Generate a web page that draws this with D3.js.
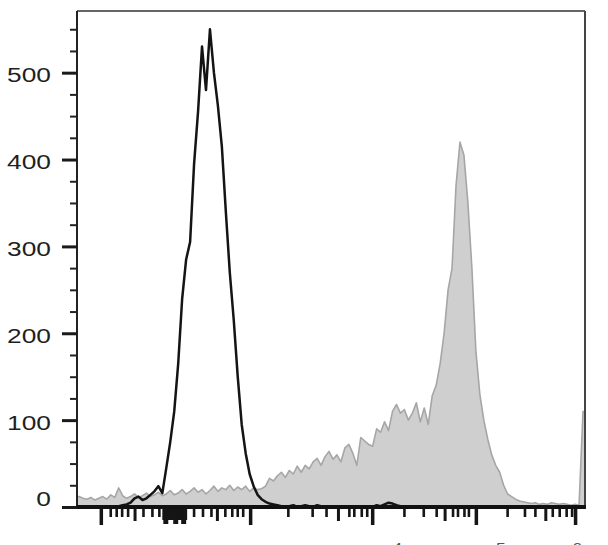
<!DOCTYPE html>
<html><head><meta charset="utf-8">
<script src="https://cdn.jsdelivr.net/npm/d3@7"></script>
<style>
html,body{margin:0;padding:0;background:#fff;}
svg{display:block;}
text{font-family:"Liberation Sans", Arial, Helvetica, sans-serif;}
</style></head><body>
<svg id="chart" width="608" height="545"></svg>
<script>
// ---------------- data ----------------
const CHANNELS = 1024;          // display channels on the x axis
const BIN = 8;                  // channels per histogram bin
const Y_MAX = 571;

// stained sample (grey filled histogram), counts per bin
const grayCounts = [
  12,10,9,11,8,10,12,9,14,11,
  22,13,10,12,15,11,13,16,12,14,
  17,13,15,19,14,16,20,15,18,22,
  17,20,15,19,24,18,22,20,25,19,
  23,20,24,18,22,20,21,
  24,33,30,
  36,40,34,42,38,47,40,48,44,52,
  56,48,58,64,55,60,52,68,72,62,
  48,80,76,72,70,90,86,98,88,110,
  118,108,112,100,108,120,98,114,95,128,
  140,165,200,250,275,370,420,405,350,275,
  180,130,100,78,60,48,40,25,15,12,
  9,7,6,5,4,5,3,4,3,5,
  4,3,4,3,2,3,2,110
];
// unstained control (black line), counts per bin
const blackCounts = [
  0,0,0,0,0,0,0,0,0,0,
  1,2,3,5,10,12,8,10,14,18,
  24,16,45,75,110,165,240,285,305,395,
  455,530,480,550,500,462,415,340,270,215,
  150,95,62,38,24,14,9,6,4,3,
  2,1,0,1,2,0,1,2,1,0,
  2,1,0,1,0,0,1,0,0,1,
  0,0,1,0,0,2,1,3,5,4,
  2,1,0,1,0,0,1,0,0,0,
  1,0,0,1,0,0,0,1,0,0,
  0,0,1,0,0,0,0,0,0,1,
  0,0,0,0,0,0,0,0,0,0,
  0,0,0,0,0,0,0,0
];

const yTickValues = [0,100,200,300,400,500];
const yTickLabels = ["0","100","200","300","400","500"];
const yMinorValues = [25,50,75,125,150,175,225,250,275,325,350,375,425,450,475,525,550];

const xMajorTicks  = [48,349,595,804,1004];
const xMediumTicks = [116,282,526,741,944];
const xMinorTicks  = [67,79,90,102,133,151,165,235,253,270,298,312,323,334,
                      425,474,502,548,558,573,584,
                      659,698,724,757,767,780,789,
                      867,902,923,958,972,986,997];
const xZeroLong  = [176,180,196,200,212,216];
const xZeroShort = [174,178,182,186,190,194,198,202,206,210,214,218];
const xLabelValues = [595,804,1004];
const xLabelBase = ["10","10","10"];
const xLabelExp  = ["4","5","6"];

// ---------------- chart ----------------
const svg = d3.select("#chart");
const x = d3.scaleLinear().domain([0, CHANNELS]).range([77, 585]);
const y = d3.scaleLinear().domain([0, Y_MAX]).range([507, 11]);

const toPoints = counts => [[0, counts[0]]]
  .concat(counts.map((c,i)=>[i*BIN + BIN/2, c]))
  .concat([[CHANNELS, counts[counts.length-1]]]);

const grayPts = toPoints(grayCounts);
const blackPts = toPoints(blackCounts);

svg.append("path")
  .attr("d", d3.area().x(d=>x(d[0])).y0(y(0)).y1(d=>y(d[1]))(grayPts))
  .attr("fill", "#cfcfcf");
svg.append("path")
  .attr("d", d3.line().x(d=>x(d[0])).y(d=>y(d[1]))(grayPts))
  .attr("fill", "none").attr("stroke", "#a6a6a6").attr("stroke-width", 1.6)
  .attr("stroke-linejoin","round");
svg.append("path")
  .attr("d", d3.line().x(d=>x(d[0])).y(d=>y(d[1]))(blackPts))
  .attr("fill", "none").attr("stroke", "#141414").attr("stroke-width", 2.5)
  .attr("stroke-linejoin","round");

// frame
const [x0, x1] = x.range();
const [yb, yt] = y.range();
svg.append("line").attr("x1", x0).attr("x2", x1).attr("y1", yt).attr("y2", yt)
  .attr("stroke", "#333").attr("stroke-width", 1.5);
svg.append("line").attr("x1", x1).attr("x2", x1).attr("y1", yt).attr("y2", yb)
  .attr("stroke", "#444").attr("stroke-width", 2);
svg.append("line").attr("x1", x0).attr("x2", x0).attr("y1", yt).attr("y2", yb)
  .attr("stroke", "#222").attr("stroke-width", 2);

// y axis
const gyMinor = svg.append("g").attr("transform", `translate(${x0},0)`)
  .call(d3.axisLeft(y).tickValues(yMinorValues).tickSize(7).tickFormat(""));
gyMinor.select(".domain").remove();
gyMinor.selectAll("line").attr("stroke", "#222").attr("stroke-width", 2);

const gy = svg.append("g").attr("transform", `translate(${x0},0)`)
  .call(d3.axisLeft(y).tickValues(yTickValues).tickSize(15)
        .tickFormat((d,i)=>yTickLabels[i]));
gy.select(".domain").remove();
gy.selectAll("line").attr("stroke", "#1a1a1a").attr("stroke-width", 3);
gy.selectAll("text")
  .attr("x", 0)
  .attr("transform", d => `translate(-26,${d===0 ? -8 : 3}) scale(1.35,1)`)
  .attr("font-size", 19.5).attr("fill", "#1f1f1f")
  .style("font-family", '"Liberation Sans", Arial, sans-serif');

// bottom axis line
svg.append("line").attr("x1", x0).attr("x2", x1 + 1).attr("y1", yb).attr("y2", yb)
  .attr("stroke", "#111").attr("stroke-width", 4);

// x ticks
function xTicks(vals, size, width) {
  const g = svg.append("g").attr("transform", `translate(0,${yb + 2})`)
    .call(d3.axisBottom(x).tickValues(vals).tickSize(size).tickFormat(""));
  g.select(".domain").remove();
  g.selectAll("line").attr("stroke", "#151515").attr("stroke-width", width);
}
xTicks(xMinorTicks, 8, 2.6);
xTicks(xMediumTicks, 12, 3);
xTicks(xMajorTicks, 16, 3.5);
xTicks(xZeroShort, 11, 3);
xTicks(xZeroLong, 15, 3);

// x labels (the reference shows only their top edge at the bottom of the picture)
const lab = svg.append("g");
xLabelValues.forEach((v, i) => {
  const px = Math.min(x(v) + 30, x1 - 3);
  const t = lab.append("text")
    .attr("transform", `translate(${px},561) scale(1.35,1)`)
    .attr("text-anchor", "end").attr("font-size", 19).attr("fill", "#555");
  t.append("tspan").text(xLabelBase[i]);
  t.append("tspan").attr("font-size", 13).attr("dy", -9).text(xLabelExp[i]);
});
</script>
</body></html>
